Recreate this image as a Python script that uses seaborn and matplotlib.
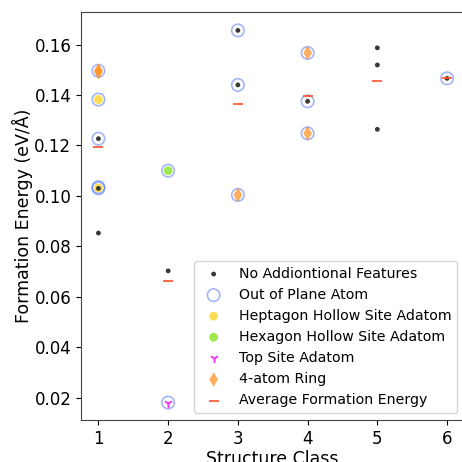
import matplotlib
matplotlib.use("Agg")
import matplotlib.pyplot as plt
import seaborn as sns

# Data
plain_x = [1, 1, 1, 2, 3, 3, 4, 5, 5, 5, 6]
plain_y = [0.1227, 0.1030, 0.0853, 0.0703, 0.1656, 0.1440, 0.1375, 0.1587, 0.1519, 0.1264, 0.1466]

oop_x = [1, 1, 1, 1, 1, 2, 2, 3, 3, 3, 4, 4, 4, 6]
oop_y = [0.1496, 0.1382, 0.1227, 0.1035, 0.1030, 0.1100, 0.0181, 0.1656, 0.1440, 0.1004, 0.1567, 0.1375, 0.1248, 0.1466]

hept_x = [1, 1]
hept_y = [0.1382, 0.1032]

hex_x = [2]
hex_y = [0.1100]

top_x = [2]
top_y = [0.0181]

ring_x = [1, 1, 3, 4, 4]
ring_y = [0.1497, 0.1491, 0.1004, 0.1567, 0.1248]

avg_x = [1, 2, 3, 4, 5, 6]
avg_y = [0.1193, 0.0663, 0.1366, 0.1398, 0.1457, 0.1466]

fig = plt.figure(figsize=(4.62, 4.62), dpi=100)
ax = fig.add_axes([81/462, 1-420/462, (464.5-81)/462, 408/462])

sns.scatterplot(x=oop_x, y=oop_y, ax=ax, marker="o", s=80, facecolor="none",
                edgecolor="#4a6cf0", linewidth=1.2, alpha=0.5, label="Out of Plane Atom", zorder=2)
sns.scatterplot(x=hept_x, y=hept_y, ax=ax, marker="o", s=40, color="#fdd835", edgecolor="none",
                alpha=0.85, label="Heptagon Hollow Site Adatom", zorder=3)
sns.scatterplot(x=hex_x, y=hex_y, ax=ax, marker="o", s=40, color="#8ee52f", edgecolor="none",
                alpha=0.85, label="Hexagon Hollow Site Adatom", zorder=3)
sns.scatterplot(x=top_x, y=top_y, ax=ax, marker="1", s=40, color="#f040f0", linewidth=1.5,
                label="Top Site Adatom", zorder=3)
sns.scatterplot(x=ring_x, y=ring_y, ax=ax, marker="d", s=55, color="#ff8c1a", edgecolor="none",
                alpha=0.7, label="4-atom Ring", zorder=3)
sns.scatterplot(x=plain_x, y=plain_y, ax=ax, marker="o", s=12, color="#383838", edgecolor="none",
                label="No Addiontional Features", zorder=4)
sns.scatterplot(x=avg_x, y=avg_y, ax=ax, marker="_", s=60, color="#ff5533", linewidth=1.5,
                alpha=0.85, label="Average Formation Energy", zorder=5)

ax.set_xlim(0.75, 6.25)
ax.set_ylim(0.0112, 0.1729)
ax.set_xticks([1, 2, 3, 4, 5, 6])
ax.set_xlabel("Structure Class", fontsize=12.5, labelpad=2)
ax.set_ylabel("Formation Energy (eV/Å)", fontsize=12.5, labelpad=1)
ax.tick_params(labelsize=12)
for s in ax.spines.values():
    s.set_color("#444444")
ax.spines["right"].set_visible(False)

h, l = ax.get_legend_handles_labels()
order = ["No Addiontional Features", "Out of Plane Atom", "Heptagon Hollow Site Adatom",
         "Hexagon Hollow Site Adatom", "Top Site Adatom", "4-atom Ring", "Average Formation Energy"]
hm = dict(zip(l, h))
ax.legend([hm[k] for k in order], order, loc="lower right", fontsize=10.2)

fig.savefig("out.png", dpi=100)
